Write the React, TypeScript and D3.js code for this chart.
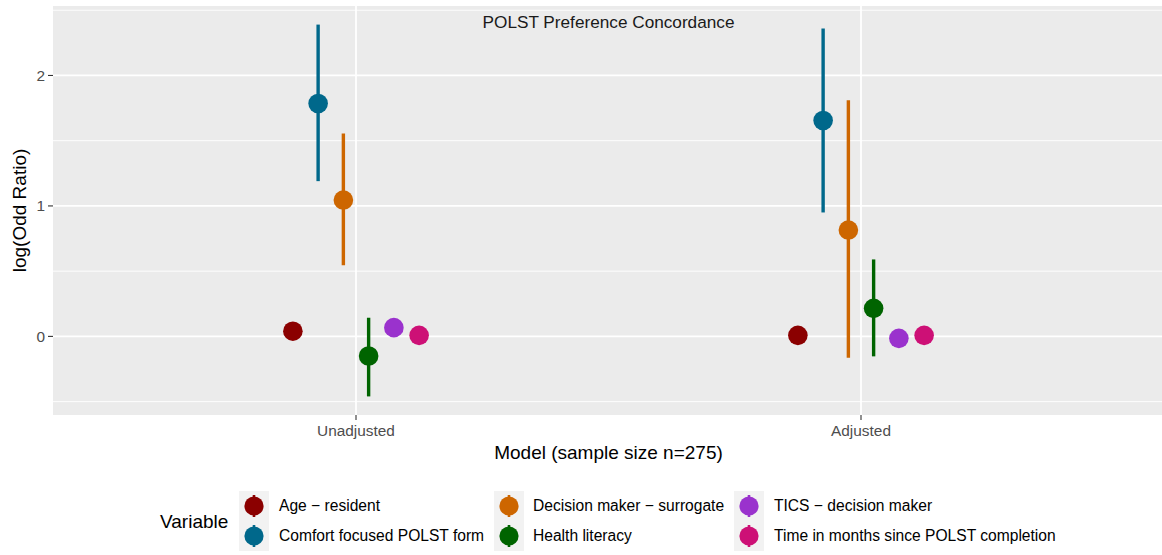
import React from "react";
import * as d3 from "d3";

const models = ["Unadjusted", "Adjusted"];
const variables = [
  "Age − resident",
  "Comfort focused POLST form",
  "Decision maker − surrogate",
  "Health literacy",
  "TICS − decision maker",
  "Time in months since POLST completion",
];
const colors = ["#8B0000", "#00688B", "#CD6600", "#006400", "#9A32CD", "#CD1076"];

const estUnadjusted = [0.04, 1.785, 1.045, -0.15, 0.067, 0.008];
const lowUnadjusted = [0.01, 1.19, 0.545, -0.46, 0.04, -0.01];
const highUnadjusted = [0.07, 2.39, 1.555, 0.143, 0.09, 0.025];

const estAdjusted = [0.008, 1.655, 0.815, 0.215, -0.015, 0.008];
const lowAdjusted = [-0.02, 0.95, -0.163, -0.153, -0.04, -0.015];
const highAdjusted = [0.035, 2.36, 1.81, 0.59, 0.01, 0.03];

const yTicks = [0, 1, 2];
const yMinor = [-0.5, 0.5, 1.5, 2.5];

const W = 1162;
const H = 555;
const FONT = "'Liberation Sans', Arial, Helvetica, sans-serif";

export default function App() {
  const panel = { left: 53, right: 1164, top: 6, bottom: 415 };

  const rows = models.flatMap((m, mi) =>
    variables.map((v, vi) => ({
      model: m,
      variable: v,
      color: colors[vi],
      est: mi === 0 ? estUnadjusted[vi] : estAdjusted[vi],
      low: mi === 0 ? lowUnadjusted[vi] : lowAdjusted[vi],
      high: mi === 0 ? highUnadjusted[vi] : highAdjusted[vi],
    }))
  );

  const minV = d3.min(rows, (r) => r.low)!;
  const maxV = d3.max(rows, (r) => r.high)!;
  const pad = (maxV - minV) * 0.05;
  const y = d3
    .scaleLinear()
    .domain([minV - pad, maxV + pad])
    .range([panel.bottom, panel.top]);

  const x = d3
    .scalePoint<string>()
    .domain(models)
    .range([panel.left, panel.right])
    .padding(0.6);

  const dodgeW = x.step() * 0.3;
  const dodge = d3
    .scaleBand<string>()
    .domain(variables)
    .range([-dodgeW / 2, dodgeW / 2]);

  const cx = (r: { model: string; variable: string }) =>
    x(r.model)! + dodge(r.variable)! + dodge.bandwidth() / 2;

  const midX = (panel.left + panel.right) / 2;
  const midY = (panel.top + panel.bottom) / 2;

  const legendCols = [
    { keyX: 239, labelX: 279 },
    { keyX: 494, labelX: 533 },
    { keyX: 734, labelX: 774 },
  ];
  const keyTop = 491;
  const keyH = 30;
  const keyW = 30;

  return (
    <svg
      width={W}
      height={H}
      style={{ position: "absolute", left: 0, top: 0, fontFamily: FONT }}
    >
      <rect x={0} y={0} width={W} height={H} fill="#ffffff" />
      <rect
        x={panel.left}
        y={panel.top}
        width={panel.right - panel.left}
        height={panel.bottom - panel.top}
        fill="#EBEBEB"
      />
      {yMinor.map((t) => (
        <line
          key={"mn" + t}
          x1={panel.left}
          x2={panel.right}
          y1={y(t)}
          y2={y(t)}
          stroke="#ffffff"
          strokeWidth={0.9}
        />
      ))}
      {yTicks.map((t) => (
        <line
          key={"mj" + t}
          x1={panel.left}
          x2={panel.right}
          y1={y(t)}
          y2={y(t)}
          stroke="#ffffff"
          strokeWidth={1.8}
        />
      ))}
      {models.map((m) => (
        <line
          key={"vx" + m}
          x1={x(m)}
          x2={x(m)}
          y1={panel.top}
          y2={panel.bottom}
          stroke="#ffffff"
          strokeWidth={1.8}
        />
      ))}

      {rows.map((r, i) => (
        <g key={"pt" + i}>
          <line
            x1={cx(r)}
            x2={cx(r)}
            y1={y(r.low)}
            y2={y(r.high)}
            stroke={r.color}
            strokeWidth={3.4}
          />
          <circle cx={cx(r)} cy={y(r.est)} r={9.8} fill={r.color} />
        </g>
      ))}

      <text
        x={midX}
        y={28}
        textAnchor="middle"
        fontSize={17.2}
        fill="#1a1a1a"
      >
        POLST Preference Concordance
      </text>

      {/* y axis */}
      {yTicks.map((t) => (
        <g key={"yt" + t}>
          <line
            x1={panel.left - 5}
            x2={panel.left}
            y1={y(t)}
            y2={y(t)}
            stroke="#333333"
            strokeWidth={1.1}
          />
          <text
            x={panel.left - 8}
            y={y(t)}
            dy="0.35em"
            textAnchor="end"
            fontSize={15.4}
            fill="#4D4D4D"
          >
            {t}
          </text>
        </g>
      ))}
      {models.map((m) => (
        <g key={"xt" + m}>
          <line
            x1={x(m)}
            x2={x(m)}
            y1={panel.bottom}
            y2={panel.bottom + 5}
            stroke="#333333"
            strokeWidth={1.1}
          />
          <text
            x={x(m)}
            y={436}
            textAnchor="middle"
            fontSize={15.4}
            fill="#4D4D4D"
          >
            {m}
          </text>
        </g>
      ))}
      <text
        x={midX}
        y={459}
        textAnchor="middle"
        fontSize={19}
        fill="#000000"
      >
        Model (sample size n=275)
      </text>
      <text
        transform={`translate(26,${midY}) rotate(-90)`}
        textAnchor="middle"
        fontSize={19}
        fill="#000000"
      >
        log(Odd Ratio)
      </text>

      {/* legend */}
      <text x={160} y={528} fontSize={19} fill="#000000">
        Variable
      </text>
      {variables.map((v, i) => {
        const col = legendCols[Math.floor(i / 2)];
        const row = i % 2;
        const top = keyTop + row * keyH;
        const kcx = col.keyX + keyW / 2;
        const kcy = top + keyH / 2;
        return (
          <g key={"lg" + i}>
            <rect x={col.keyX} y={top} width={keyW} height={keyH} fill="#F2F2F2" />
            <line
              x1={kcx}
              x2={kcx}
              y1={kcy - 11}
              y2={kcy + 11}
              stroke={colors[i]}
              strokeWidth={2.6}
            />
            <circle cx={kcx} cy={kcy} r={9.6} fill={colors[i]} />
            <text x={col.labelX} y={kcy} dy="0.35em" fontSize={15.6} fill="#000000">
              {v}
            </text>
          </g>
        );
      })}
    </svg>
  );
}
